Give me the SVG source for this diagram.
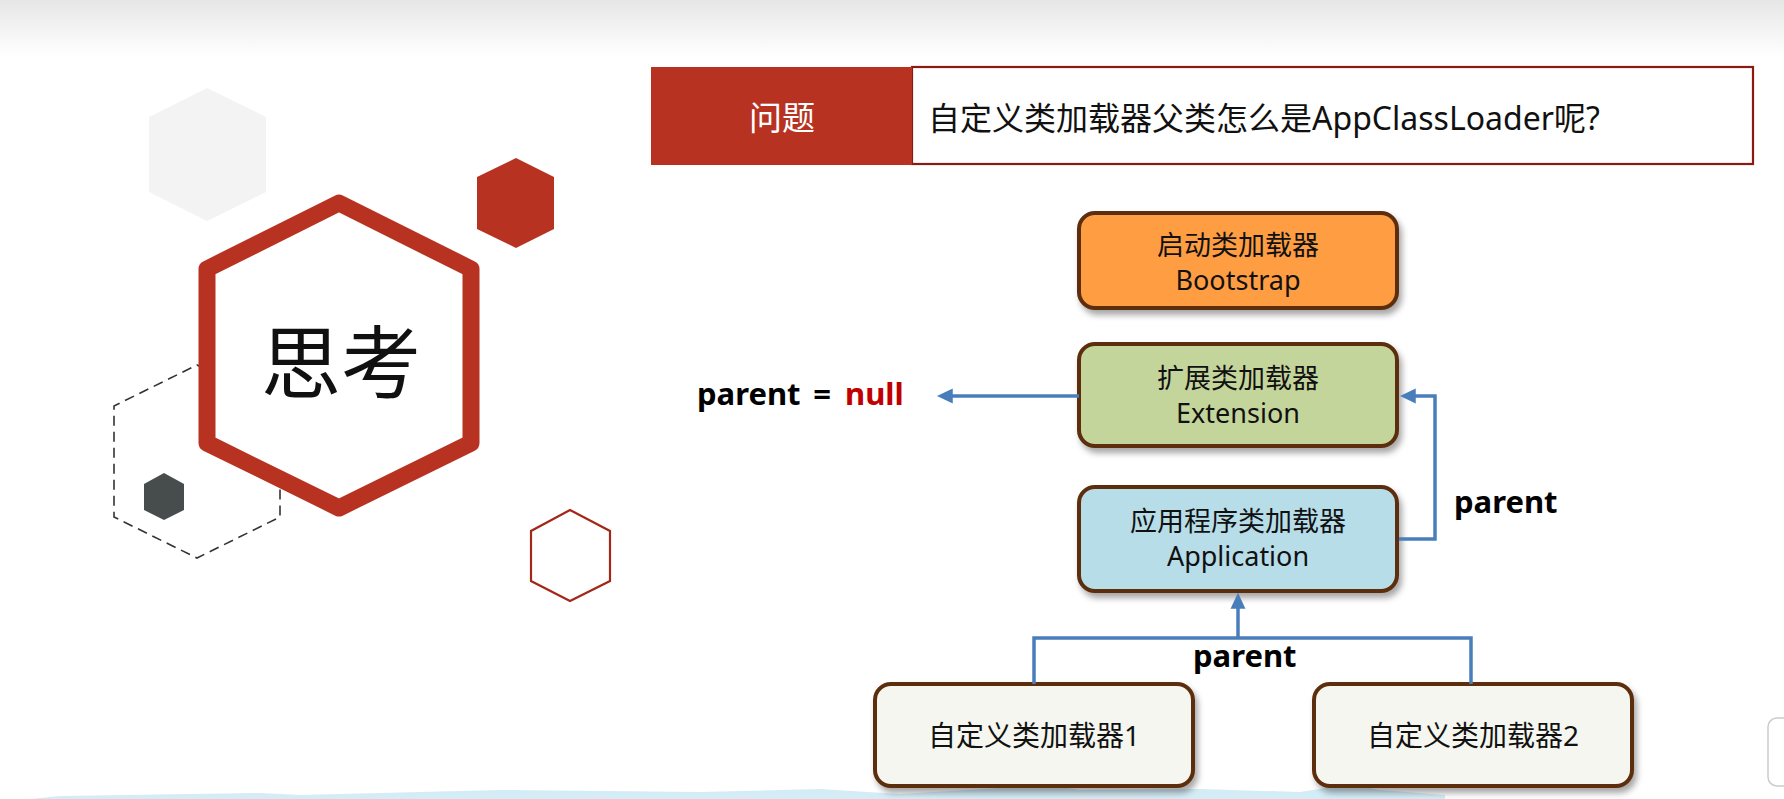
<svg xmlns="http://www.w3.org/2000/svg" width="1784" height="799" viewBox="0 0 1784 799">
<defs>
<linearGradient id="topband" x1="0" y1="0" x2="0" y2="1">
<stop offset="0" stop-color="#e6e6e6"/>
<stop offset="1" stop-color="#ffffff"/>
</linearGradient>
<filter id="shadow" x="-10%" y="-10%" width="125%" height="135%">
<feDropShadow dx="3" dy="5" stdDeviation="3" flood-color="#000" flood-opacity="0.35"/>
</filter>
<marker id="arrow" markerUnits="userSpaceOnUse" markerWidth="16" markerHeight="16" viewBox="0 0 15 14" refX="11" refY="7" orient="auto">
<path d="M0,0 L15,7 L0,14 z" fill="#4a7ebb"/>
</marker>
<style>
.box{stroke:#5c2e0a;stroke-width:4;filter:url(#shadow)}
.t{font-family:"Noto Sans","Noto Sans CJK SC",sans-serif;font-size:27px;fill:#111;text-anchor:middle}
.t1{font-family:"Noto Sans","Noto Sans CJK SC",sans-serif;font-size:28px;fill:#111;text-anchor:middle}
.lbl{font-family:"Noto Sans","Noto Sans CJK SC",sans-serif;font-size:31px;font-weight:bold;fill:#000}
.conn{fill:none;stroke:#4a7ebb;stroke-width:3.5}
</style>
</defs>

<rect x="0" y="0" width="1784" height="56" fill="url(#topband)"/>
<path d="M30,799 L60,796 L260,793 L300,795 L500,790 L700,792 L820,789 L900,794 L1000,788 L1040,784 L1080,790 L1200,789 L1300,792 L1350,784 L1380,790 L1445,795 L1445,799 Z" fill="#d3ecf6"/>
<rect x="1768" y="718" width="40" height="68" rx="9" fill="#ffffff" stroke="#cccccc" stroke-width="1.5"/>

<g id="decor">
<polygon points="207,88 266,117 266,192 207,221 149,192 149,117" fill="#f3f3f3"/>
<polygon points="197,365 280,406 280,517 197,558 114,517 114,406" fill="none" stroke="#333" stroke-width="1.6" stroke-dasharray="10,6"/>
<polygon points="164,473 184,484 184,510 164,520 144,510 144,484" fill="#474d4d"/>
<polygon points="516,158 554,177 554,229 516,248 477,229 477,177" fill="#b83222"/>
<polygon points="570,510 610,531 610,581 570,601 531,581 531,531" fill="none" stroke="#a3281a" stroke-width="2.2"/>
</g>

<g id="think">
<polygon points="339,203 471,269 471,443 339,508 207,443 207,269" fill="#ffffff" stroke="#b83222" stroke-width="17" stroke-linejoin="round"/>
<text x="341" y="392" font-family="'Noto Sans CJK SC',sans-serif" font-size="80" fill="#111" text-anchor="middle">思考</text>
</g>

<g id="question">
<rect x="912" y="67" width="841" height="97" fill="#ffffff" stroke="#8b1a10" stroke-width="2.2"/>
<rect x="651" y="67" width="261" height="98" fill="#b83222"/>
<text x="782" y="130" font-family="'Noto Sans CJK SC',sans-serif" font-size="33" fill="#ffffff" text-anchor="middle">问题</text>
<text x="928" y="130" font-family="'Noto Sans','Noto Sans CJK SC',sans-serif" font-size="32" fill="#111">自定义类加载器父类怎么是AppClassLoader呢?</text>
</g>

<g id="bootstrap">
<rect class="box" x="1079" y="213" width="318" height="95" rx="16" fill="#ff9d42"/>
<text class="t"><tspan x="1238" y="255">启动类加载器</tspan><tspan x="1238" y="290">Bootstrap</tspan></text>
</g>

<g id="extension">
<rect class="box" x="1079" y="344" width="318" height="102" rx="16" fill="#c4d59b"/>
<text class="t"><tspan x="1238" y="388">扩展类加载器</tspan><tspan x="1238" y="423">Extension</tspan></text>
</g>

<g id="application">
<rect class="box" x="1079" y="487" width="318" height="104" rx="16" fill="#b7dde9"/>
<text class="t"><tspan x="1238" y="531">应用程序类加载器</tspan><tspan x="1238" y="566">Application</tspan></text>
</g>

<g id="custom1">
<rect class="box" x="875" y="684" width="318" height="102" rx="16" fill="#f4f6ef"/>
<text class="t1" x="1034" y="746">自定义类加载器1</text>
</g>

<g id="custom2">
<rect class="box" x="1314" y="684" width="318" height="102" rx="16" fill="#f4f6ef"/>
<text class="t1" x="1473" y="746">自定义类加载器2</text>
</g>

<g id="connectors">
<path class="conn" d="M1079,396 L941,396" marker-end="url(#arrow)"/>
<path class="conn" d="M1399,539 L1435,539 L1435,396 L1404,396" marker-end="url(#arrow)"/>
<path class="conn" d="M1034,684 L1034,638 L1471,638 L1471,684"/>
<path class="conn" d="M1238,638 L1238,597" marker-end="url(#arrow)"/>
</g>

<g id="labels">
<text class="lbl" x="1454" y="513">parent</text>
<text class="lbl" x="1193" y="667">parent</text>
<text class="lbl" x="697" y="405">parent</text>
<text class="lbl" x="822" y="405" text-anchor="middle">=</text>
<text class="lbl" x="845" y="405" style="fill:#c00000">null</text>
</g>
</svg>
